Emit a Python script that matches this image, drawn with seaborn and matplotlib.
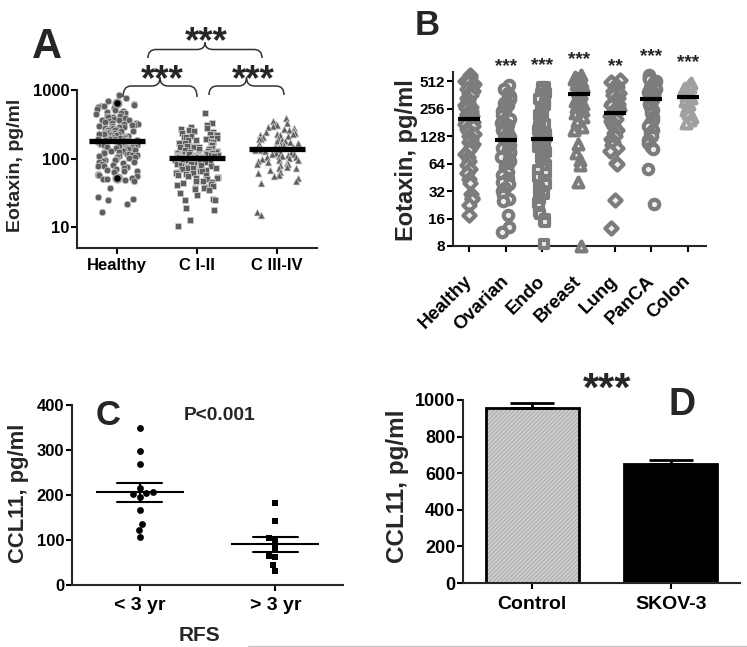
import numpy as np
import pandas as pd
import seaborn as sns
import matplotlib.pyplot as plt
import matplotlib.transforms as mtrans
from matplotlib.path import Path
from matplotlib.patches import PathPatch
from matplotlib.lines import Line2D
from matplotlib.ticker import NullLocator

# --- DATA ---
# (A) eotaxin, pg/ml, log10 axis
a_groups = ['Healthy', 'C I-II', 'C III-IV']
a_healthy = [840, 760, 700, 650, 620, 600, 590, 580, 560, 540, 530, 520, 500, 480, 470,
             460, 440, 425, 415, 410, 400, 390, 380, 370, 365, 360, 350, 340, 335, 330,
             320, 315, 310, 305, 300, 295, 290, 285, 280, 278, 275, 270, 265, 260, 258,
             255, 250, 245, 240, 238, 235, 230, 228, 226, 222, 218, 216, 214, 210, 206,
             204, 202, 199, 197, 196, 193, 191, 190, 187, 186, 185, 184,
             180, 178, 177, 174, 172, 171, 168, 165, 163, 162, 159, 157, 156, 153, 150,
             149, 147, 146, 144, 141, 138, 137, 135, 132, 129, 128, 126, 123, 120, 118,
             117, 114, 112, 111, 108, 106, 105, 102, 99, 97, 96, 93, 90, 88, 87, 84, 81,
             79, 78, 75, 72, 70, 69, 67, 66, 63, 60, 58, 57, 56, 54, 52, 51, 50, 49,
             48, 38, 28, 26, 25, 22, 17]
a_c12 = [460, 330, 310, 290, 280, 270, 260, 250, 245, 240, 230, 226, 222, 215, 208,
         204, 200, 200, 194, 188, 185, 182, 176, 170, 168, 165, 160, 155, 152, 150,
         150, 146, 142, 140, 138, 134, 131, 128, 127, 125, 122, 121, 120, 119, 118,
         117, 116, 115, 114, 114, 113, 112, 111, 110, 110, 109, 108, 107, 107, 106,
         105, 105, 104, 104, 104,
         102, 102, 101, 100, 100, 99, 98, 97, 97, 96, 95, 94, 93, 92, 90, 89, 88,
         86, 85, 84, 83, 82, 80, 79, 78, 76, 74, 73, 72, 70, 68, 67, 66, 64, 62,
         61, 60, 58, 57, 56, 54, 53, 52, 50, 48, 47, 46, 44, 43, 42, 40, 39, 38,
         38, 36, 35, 32, 30, 26, 25, 25, 19, 18, 13, 10.5]
a_c34 = [390, 350, 330, 320, 310, 300, 290, 275, 270, 260, 250, 245, 240, 232, 225,
         222, 218, 212, 206, 200, 196, 194, 188, 182, 178, 176, 171, 166, 163, 161,
         157, 153, 150, 149, 146, 143, 142, 141, 139,
         137, 135, 134, 131, 128, 127, 125, 122, 119, 118, 116, 113, 110, 108, 107,
         104, 101, 98, 96, 95, 92, 89, 86, 84, 83, 80, 76, 74, 72, 68, 64, 62, 58,
         55, 52, 48, 44, 17, 15]
a_marked = [640, 52]  # two highlighted healthy donors

# (B) eotaxin, pg/ml, log2 axis
b_groups = ['Healthy', 'Ovarian', 'Endo', 'Breast', 'Lung', 'PanCA', 'Colon']
b_healthy = [600, 580, 550, 520, 500, 480, 460, 440, 420, 400, 380, 360, 340, 320, 300,
             290, 280, 270, 260, 250, 240, 232, 225, 218, 212,
             205, 195, 185, 175, 165, 155, 145, 135, 128, 120, 112, 105, 98, 90, 82,
             75, 68, 62, 56, 50, 44, 39, 30, 27, 26, 22.5, 17.5]
b_ovarian = [470, 420, 380, 350, 330, 310, 300, 290, 280, 270, 260, 250, 240, 230, 220,
             210, 200, 190, 180, 172, 165, 158, 150, 145, 140, 135, 130, 125, 122, 119,
             115, 112, 108, 104, 100, 96, 92, 88, 84, 80, 76, 72, 68, 64, 60, 56, 52,
             48, 45, 42, 40, 38, 35, 32, 29, 26, 25, 17.5, 13, 11.5]
b_endo = [450, 440, 420, 380, 370, 350, 330, 300, 280, 260, 250, 240, 230, 220, 210,
          200, 195, 185, 175, 165, 160, 155, 150, 145, 140, 135, 132, 128, 125, 123,
          119, 115, 110, 104, 98, 92, 86, 80, 74, 68, 62, 58, 54, 50, 46, 42, 38, 35,
          32, 30, 28, 26, 24, 22, 19, 18, 16, 15, 14.5, 8.5]
b_breast = [600, 580, 560, 540, 520, 510, 500, 490, 480, 470, 460, 450, 440, 430, 420,
            410, 395, 385, 370, 350, 330, 310, 290, 270, 250, 230, 210, 190, 160, 150,
            105, 84, 70, 62, 40, 8]
b_lung = [530, 500, 470, 440, 420, 400, 380, 360, 340, 320, 300, 290, 280, 270, 260,
          250, 245, 238, 232, 226, 215, 200, 190, 180, 170, 160, 150, 140, 130, 120,
          112, 104, 96, 88, 66, 63, 25.6, 12.7]
b_panca = [600, 580, 560, 540, 520, 500, 480, 460, 440, 420, 400, 390, 380, 370, 360,
           350, 345, 338, 332, 326, 310, 290, 270, 250, 230, 210, 195, 180, 165, 150,
           140, 130, 118, 108, 98, 93, 56, 23]
b_colon = [490, 470, 450, 430, 420, 400, 390, 380, 365, 355,
           340, 330, 310, 290, 270, 250, 230, 210, 195, 180]
b_stars = ['', '***', '***', '***', '**', '***', '***']
b_star_y = [0, 71, 70, 64, 71, 61, 67]   # baseline, figure px from top
b_ticks = [8, 16, 32, 64, 128, 256, 512]

# (C) CCL11 by recurrence-free survival
c_groups = ['< 3 yr', '> 3 yr']
c_short = [348, 298, 270, 216, 206, 202, 204, 196, 167, 136, 122, 107]
c_long = [183, 143, 104, 98, 83, 64, 62, 44, 31]

# (D) CCL11 in culture supernatant, mean and SEM
d_groups = ['Control', 'SKOV-3']
d_mean = [957, 650]
d_sem = [24, 22]

# --- FIGURE ---
W, H = 747, 647
sns.set_style('ticks')
plt.rcParams['font.family'] = ['Liberation Sans', 'DejaVu Sans']
plt.rcParams['font.weight'] = 'bold'
plt.rcParams['axes.labelweight'] = 'bold'
plt.rcParams['axes.linewidth'] = 1.5
plt.rcParams['hatch.linewidth'] = 0.5
np.random.seed(3)

fig = plt.figure(figsize=(W / 100, H / 100), dpi=100)


def px_axes(l, t, r, b):
    return fig.add_axes([l / W, 1 - b / H, (r - l) / W, (b - t) / H])


def ftext(x, y, s, size, **kw):
    fig.text(x / W, 1 - y / H, s, fontsize=size, fontweight='bold',
             ha='center', va='baseline', **kw)


def brace(x0, x1, y_end, y_line, y_peak, r=8):
    xm = (x0 + x1) / 2
    pts = [(x0, y_end), (x0, y_line), (x0 + r, y_line), (xm - r, y_line),
           (xm, y_line), (xm, y_peak), (xm, y_line), (xm + r, y_line),
           (x1 - r, y_line), (x1, y_line), (x1, y_end)]
    codes = [Path.MOVETO, Path.CURVE3, Path.CURVE3, Path.LINETO, Path.CURVE3,
             Path.CURVE3, Path.CURVE3, Path.CURVE3, Path.LINETO, Path.CURVE3, Path.CURVE3]
    verts = [(x / W, 1 - y / H) for x, y in pts]
    fig.add_artist(PathPatch(Path(verts, codes), transform=fig.transFigure,
                             fill=False, edgecolor='#333333', lw=1.1))


def style_axis(ax, ysize, xsize, ypad=1, xpad=3):
    sns.despine(ax=ax)
    ax.tick_params(width=1.5, length=4.5, colors='black')
    ax.tick_params(axis='y', labelsize=ysize, pad=ypad)
    ax.tick_params(axis='x', labelsize=xsize, pad=xpad)
    ax.set_xlabel('')


def lines_on_top(ax):
    for ln in ax.lines:
        ln.set_zorder(10)


# ---(A)---
axA = px_axes(77, 90, 317, 248)
axA.set_yscale('log')
dfA = pd.DataFrame({'group': np.repeat(a_groups, [len(a_healthy), len(a_c12), len(a_c34)]),
                    'val': a_healthy + a_c12 + a_c34})
a_style = {'Healthy': dict(marker='o', size=4.8),
           'C I-II': dict(marker='s', size=4.2),
           'C III-IV': dict(marker='^', size=5.0)}
for g in a_groups:
    sns.stripplot(data=dfA[dfA.group == g], x='group', y='val', order=a_groups,
                  jitter=0.27, color='#5e5e5e', edgecolor='#d2d2d2', linewidth=0.5,
                  ax=axA, **a_style[g])
sns.stripplot(x=['Healthy'] * len(a_marked), y=a_marked, order=a_groups, jitter=False,
              color='black', edgecolor='#9a9a9a', linewidth=1.3, size=6, ax=axA)
sns.pointplot(data=dfA, x='group', y='val', order=a_groups, estimator='median',
              errorbar=None, color='black', marker='_', markersize=41,
              markeredgewidth=3.8, linestyle='none', ax=axA)
lines_on_top(axA)
axA.set_xlim(-0.5, 2.5)
axA.set_ylim(5, 1000)
axA.set_yticks([10, 100, 1000])
axA.set_yticklabels(['10', '100', '1000'])
axA.yaxis.set_minor_locator(NullLocator())
style_axis(axA, 12, 12)
axA.set_ylabel('Eotaxin, pg/ml', fontsize=14, va='center')
axA.yaxis.set_label_coords(-0.258, 0.52)

ftext(47, 58, 'A', 30)
ftext(206, 52, '***', 26.5)
ftext(162, 90.5, '***', 26.5)
ftext(253, 90.5, '***', 26.5)
brace(148, 262, 58, 49.5, 42.5)
brace(123, 197, 97, 86, 77.5)
brace(209, 284, 95, 86, 77.5)

# ---(B)---
axB = px_axes(453, 72, 706, 246)
axB.set_yscale('log', base=2)
b_lists = [b_healthy, b_ovarian, b_endo, b_breast, b_lung, b_panca, b_colon]
dfB = pd.DataFrame({'group': np.repeat(b_groups, [len(v) for v in b_lists]),
                    'val': np.concatenate(b_lists)})
b_marker = ['D', 'o', 's', '^', 'D', 'o', '^']
b_size = [6.2, 6.8, 6.2, 7.0, 6.2, 6.8, 7.0]
b_edge = ['#7c7c7c'] * 6 + ['#a0a0a0']
for g, m, s, e in zip(b_groups, b_marker, b_size, b_edge):
    sns.stripplot(data=dfB[dfB.group == g], x='group', y='val', order=b_groups,
                  jitter=0.13, color='#ededed', edgecolor=e, linewidth=3.0,
                  marker=m, size=s, ax=axB)
for c in axB.collections:
    c.set_clip_on(False)
sns.pointplot(data=dfB, x='group', y='val', order=b_groups, estimator='median',
              errorbar=None, color='black', marker='_', markersize=16.5,
              markeredgewidth=3, linestyle='none', ax=axB)
lines_on_top(axB)
axB.set_xlim(-0.45, 6.5)
axB.set_ylim(8, 650)
axB.set_yticks(b_ticks)
axB.set_yticklabels([str(t) for t in b_ticks])
axB.yaxis.set_minor_locator(NullLocator())
style_axis(axB, 11, 13.5, xpad=19)
axB.set_xticks(range(len(b_groups)))
axB.set_xticklabels(b_groups, rotation=45, ha='right', va='center', rotation_mode='anchor')
axB.set_ylabel('Eotaxin, pg/ml', fontsize=17, va='center')
axB.yaxis.set_label_coords(-0.182, 0.494)

tB = mtrans.blended_transform_factory(axB.transData, fig.transFigure)
for i, (s, y) in enumerate(zip(b_stars, b_star_y)):
    if s:
        axB.text(i, 1 - y / H, s, transform=tB, fontsize=13.6, fontweight='bold',
                 ha='center', va='baseline')
ftext(427, 35, 'B', 25)

# ---(C)---
axC = px_axes(72, 405, 343, 585)
dfC = pd.DataFrame({'group': np.repeat(c_groups, [len(c_short), len(c_long)]),
                    'val': c_short + c_long})
for g, m, s in zip(c_groups, ['o', 's'], [4.9, 4.5]):
    sns.swarmplot(data=dfC[dfC.group == g], x='group', y='val', order=c_groups,
                  color='black', marker=m, size=s, ax=axC)
sns.pointplot(data=dfC, x='group', y='val', order=c_groups, estimator='mean',
              errorbar='se', capsize=0.33, color='black', marker='_', markersize=63,
              markeredgewidth=1.5, linestyle='none', err_kws={'linewidth': 1.5}, ax=axC)
axC.set_xlim(-0.5, 1.5)
axC.set_ylim(0, 400)
axC.set_yticks([0, 100, 200, 300, 400])
style_axis(axC, 12, 14, xpad=4)
axC.set_ylabel('CCL11, pg/ml', fontsize=15.8, va='center')
axC.yaxis.set_label_coords(-0.199, 0.51)
axC.set_xlabel('RFS', fontsize=15, va='center')
axC.xaxis.set_label_coords(0.472, -0.278)
ftext(108, 425, 'C', 25)
ftext(220, 419.5, 'P<0.001', 13.8)

# ---(D)---
axD = px_axes(463, 400, 740, 583)
sns.barplot(x=d_groups, y=d_mean, hue=d_groups, palette=['#cdcdcd', 'black'],
            saturation=1, edgecolor='black', linewidth=2, width=0.67, legend=False, ax=axD)
ctrl = axD.patches[0]
ctrl.set_hatch('////////')
ctrl._hatch_color = (0.62, 0.62, 0.62, 1.0)  # lighter hatch than the black outline
axD.errorbar(np.arange(len(d_groups)), d_mean, yerr=[np.zeros(len(d_sem)), d_sem],
             fmt='none', ecolor='black', elinewidth=2, capsize=16, capthick=2)
axD.set_xlim(-0.5, 1.5)
axD.set_ylim(0, 1000)
axD.set_yticks([0, 200, 400, 600, 800, 1000])
style_axis(axD, 13, 14, xpad=5)
axD.set_ylabel('CCL11, pg/ml', fontsize=17.5, va='center')
axD.yaxis.set_label_coords(-0.235, 0.53)
ftext(607, 401, '***', 29.6)
ftext(682, 415, 'D', 27)

fig.add_artist(Line2D([248 / W, 1], [1 - 645.5 / H] * 2, color='#c8c8c8', lw=1))

fig.savefig('out.png', dpi=100)
